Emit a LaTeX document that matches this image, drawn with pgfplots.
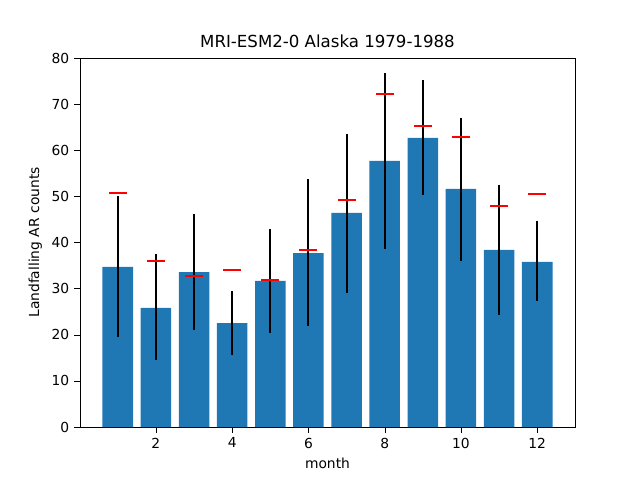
\documentclass[border=0pt]{standalone}
\usepackage{pgfplots}
\pgfplotsset{compat=1.18}
\usepackage{pgfplotstable}
\usepackage{fontspec}
\setmainfont{DejaVu Sans}
\usetikzlibrary{calc}
\definecolor{mplblue}{HTML}{1F77B4}
\pgfplotstableread{
m y ep em r
1 34.7 15.3 15.2 50.7
2 25.8 11.7 11.3 36.0
3 33.6 12.6 12.6 32.7
4 22.5 7.0 6.9 34.0
5 31.7 11.2 11.3 31.9
6 37.7 16.1 15.8 38.4
7 46.4 17.1 17.4 49.2
8 57.7 19.0 19.1 72.2
9 62.7 12.5 12.4 65.3
10 51.6 15.4 15.6 62.9
11 38.4 14.1 14.1 47.9
12 35.8 8.9 8.5 50.5
}\data
\begin{document}
\begin{tikzpicture}
\begin{axis}[name=ax,
  scale only axis, width=4.95in, height=3.69in,
  xmin=0.01, xmax=12.99, ymin=0, ymax=80,
  xtick={2,4,6,8,10,12}, ytick={0,10,...,80},
  tick align=outside, tick style={black},
  xtick pos=bottom, ytick pos=left,
  /pgf/number format/assume math mode=true,
  title={MRI-ESM2-0 Alaska 1979-1988},
  title style={font=\fontsize{12}{14}\selectfont, yshift=-2pt},
  xlabel={month}, ylabel={Landfalling AR counts},
  label style={font=\fontsize{10}{12}\selectfont},
  tick label style={font=\fontsize{10}{12}\selectfont},
]
\addplot[ybar, bar width=0.8, fill=mplblue, draw=none,
  error bars/.cd, y dir=both, y explicit, error bar style={black, line width=1.4pt}, error mark=none]
  table[x=m, y=y, y error plus=ep, y error minus=em] {\data};
\addplot[only marks, red, mark=-, mark size=6.5pt, mark options={line width=1.2pt}] table[x=m, y=r] {\data};
\end{axis}
\path[use as bounding box] ($(ax.south west)+(-0.8in,-0.53in)$) rectangle ($(ax.north east)+(0.65in,0.58in)$);
\end{tikzpicture}
\end{document}
